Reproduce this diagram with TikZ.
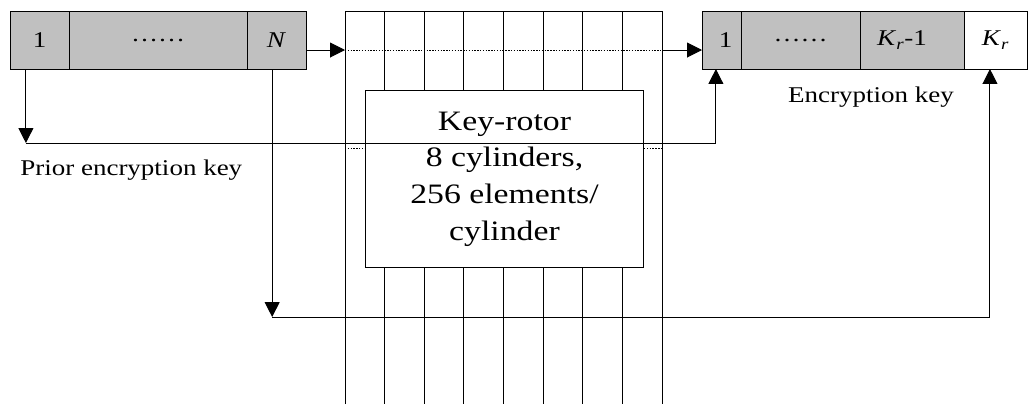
\documentclass[tikz,border=0pt]{standalone}
\usepackage{fontspec}
\setmainfont{Liberation Serif}[FakeStretch=1.2]
\usepackage{tikz}
\usetikzlibrary{positioning,arrows.meta}
\definecolor{cellGray}{HTML}{C0C0C0}
\newcommand{\Kr}{\textit{K}\textsubscript{\textit{r}}}

\begin{document}
\begin{tikzpicture}[x=0.025cm,y=-0.025cm,
  cell/.style={draw,fill=cellGray,line width=0.7pt,minimum height=1.45cm,inner sep=0pt,outer sep=0pt,font=\fontsize{16}{19}\selectfont},
  wire/.style={line width=0.7pt},
  arr/.style={wire,-{Triangle[length=3.7mm,width=3.7mm]}},
  dotline/.style={line width=0.6pt,dash pattern=on 1pt off 1pt},
  note/.style={font=\fontsize{16}{19}\selectfont,inner sep=0pt}
]
  \useasboundingbox (0,0) rectangle (1028,404);
  % prior key register
  \node[cell,minimum width=1.475cm,anchor=north west] (p1) at (10,11) {1};
  \node[cell,minimum width=4.45cm,right=0pt of p1] (pdots) {\dots\dots};
  \node[cell,minimum width=1.475cm,right=0pt of pdots] (pN) {\textit{N}};
  % new key register
  \node[cell,minimum width=0.975cm,anchor=north west] (k1) at (702,11) {\hspace*{2mm}1};
  \node[cell,minimum width=2.975cm,right=0pt of k1] (kdots) {\dots\dots};
  \node[cell,minimum width=2.6cm,right=0pt of kdots] (kr1) {\Kr-1\hspace*{5mm}};
  \node[cell,fill=white,minimum width=1.575cm,right=0pt of kr1] (kr) {\Kr};
  % key-rotor cylinders
  \draw[wire] (345,404) |- (662,11) -- (662,404);
  \foreach \i in {1,...,7}
    \draw[wire] (345+39.625*\i,11) -- ++(0,393);
  \node[draw,wire,fill=white,minimum width=6.95cm,minimum height=4.425cm,anchor=north west,align=center,
    font=\fontsize{20}{26}\selectfont] (rotorbox) at (365,90) {Key-rotor\\8 cylinders,\\256 elements/\\cylinder};
  \coordinate (rotorIn) at (345,50);
  \coordinate (rotorOut) at (662,50);
  \coordinate (dotL) at (345,148);
  \coordinate (dotR) at (662,148);
  \draw[arr] (pN.east |- rotorIn) -- (rotorIn);
  \draw[dotline] (rotorIn) -- (rotorOut);
  \draw[arr] (rotorOut) -- (k1.west |- rotorOut);
  \draw[dotline] (dotL) -- (rotorbox.west |- dotL);
  \draw[dotline] (rotorbox.east |- dotR) -- (dotR);
  % feedback paths
  \draw[arr] ([xshift=-0.34cm]p1.south) -- ++(0,74) coordinate (pCorner);
  \draw[arr] (pCorner) -| ([xshift=-0.14cm]k1.south);
  \draw[arr] ([xshift=-0.11cm]pN.south) -- ++(0,248) coordinate (nCorner);
  \draw[arr] (nCorner) -| ([xshift=-0.14cm]kr.south);
  \node[note,anchor=west] (prior) at (20,170) {Prior encryption key};
  \node[note] (enc) at (871,97) {Encryption key};
\end{tikzpicture}
\end{document}
